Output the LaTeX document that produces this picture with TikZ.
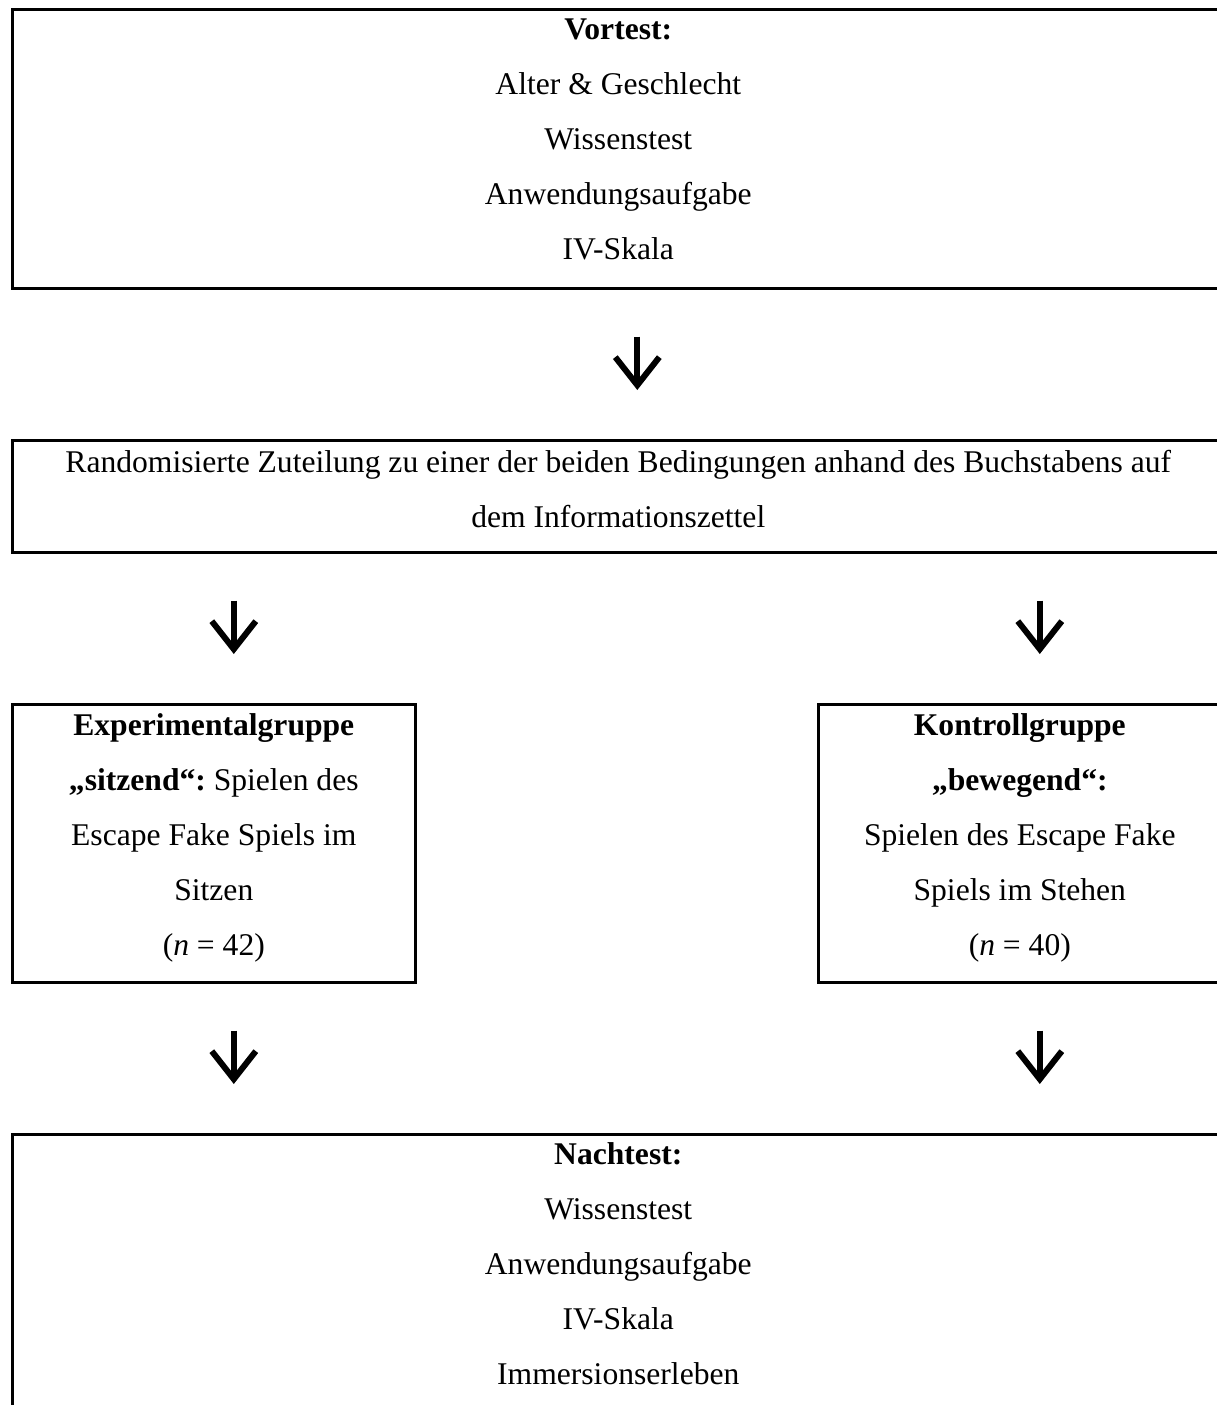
\documentclass[tikz,border=0pt]{standalone}
\usepackage{fontspec}
\setmainfont{Liberation Serif}
\usetikzlibrary{arrows.meta,calc}
\frenchspacing
\tikzset{
    kasten/.style={draw,line width=2.6pt,anchor=north west,inner sep=0pt,align=flush center,
        font=\fontsize{31.6}{55}\selectfont},
    pfeil/.style={line width=6pt,-{Straight Barb[length=28pt,width=44pt]},
        shorten <=47pt,shorten >=49pt}
}
\begin{document}
\begin{tikzpicture}[x=1pt,y=-1pt]
    \useasboundingbox (0,0) rectangle (1217,1405);
    \node[kasten,text width=1212pt] (vortest) at (11,8)
        {\rule{0pt}{30pt}\textbf{Vortest:}\\Alter \& Geschlecht\\Wissenstest\\
         Anwendungsaufgabe\\IV-Skala\rule[-29pt]{0pt}{29pt}};
    \node[kasten,text width=1212pt] (los) at (11,439)
        {\rule{0pt}{32pt}Randomisierte Zuteilung zu einer der beiden Bedingungen anhand des Buchstabens auf\\
         dem Informationszettel\rule[-25pt]{0pt}{25pt}};
    \node[kasten,text width=403pt] (exp) at (11,703)
        {\rule{0pt}{31pt}\textbf{Experimentalgruppe}\\\textbf{„sitzend“:} Spielen des\\
         Escape Fake Spiels im\\Sitzen\\(\textit{n} = 42)\rule[-27pt]{0pt}{27pt}};
    \node[kasten,text width=403pt] (kon) at (817,703)
        {\rule{0pt}{31pt}\textbf{Kontrollgruppe}\\\textbf{„bewegend“:}\\
         Spielen des Escape Fake\\Spiels im Stehen\\(\textit{n} = 40)\rule[-27pt]{0pt}{27pt}};
    \node[kasten,text width=1212pt] (nach) at (11,1133)
        {\rule{0pt}{30pt}\textbf{Nachtest:}\\Wissenstest\\Anwendungsaufgabe\\
         IV-Skala\\Immersionserleben\rule[-29pt]{0pt}{29pt}};
    \draw[pfeil] ($(vortest.south)+(19,0)$) -- ($(los.north)+(19,0)$);
    \foreach \g in {exp,kon}
    {
        \draw[pfeil] ($(los.south -| \g.north)+(20,0)$) -- ($(\g.north)+(20,0)$);
        \draw[pfeil] ($(\g.south)+(20,0)$) -- ($(\g.south |- nach.north)+(20,0)$);
    }
\end{tikzpicture}
\end{document}
